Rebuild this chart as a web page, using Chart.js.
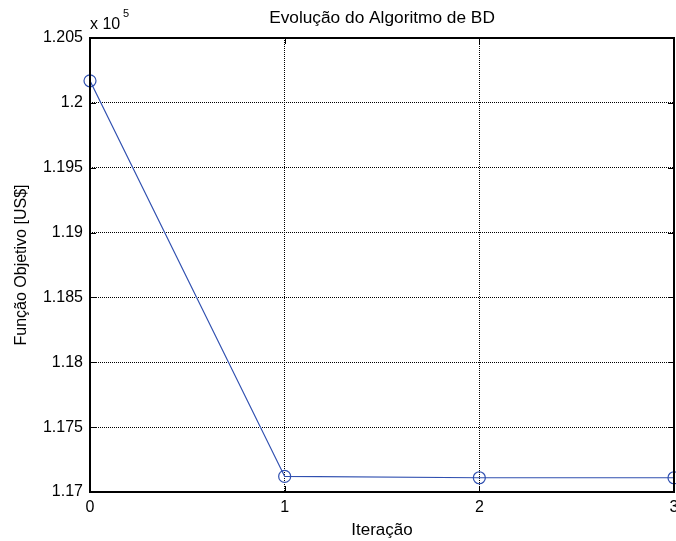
<!DOCTYPE html>
<html>
<head>
<meta charset="utf-8">
<script src="https://cdn.jsdelivr.net/npm/chart.js@4"></script>
<style>
  html, body { margin: 0; padding: 0; background: #fff; }
  #wrap { width: 676px; height: 541px; }
</style>
</head>
<body>
<div id="wrap"><canvas id="chart" width="676" height="541"></canvas></div>
<script>
const iteracoes = [0, 1, 2, 3];
const funcaoObjetivo = [120170, 117120, 117110, 117110];
const yTicks = [117000, 117500, 118000, 118500, 119000, 119500, 120000, 120500];
const xTicks = [0, 1, 2, 3];

const FONT = 'Liberation Sans, Arial, sans-serif';
const FS = 16;

// decoracoes estilo MATLAB: ticks para dentro, titulo e expoente
const matlabDeco = {
    id: 'matlabDeco',
    afterDraw(chart) {
        const ctx = chart.ctx;
        const a = chart.chartArea;
        const xs = chart.scales.x, ys = chart.scales.y;
        ctx.save();
        ctx.strokeStyle = '#000';
        ctx.lineWidth = 1;
        ctx.beginPath();
        yTicks.forEach(v => {
            const y = Math.round(ys.getPixelForValue(v)) + 0.5;
            ctx.moveTo(a.left, y); ctx.lineTo(a.left + 6, y);
            ctx.moveTo(a.right, y); ctx.lineTo(a.right - 6, y);
        });
        xTicks.forEach(v => {
            const x = Math.round(xs.getPixelForValue(v)) + 0.5;
            ctx.moveTo(x, a.bottom); ctx.lineTo(x, a.bottom - 6);
            ctx.moveTo(x, a.top); ctx.lineTo(x, a.top + 6);
        });
        ctx.stroke();
        ctx.lineWidth = 2;
        ctx.strokeRect(a.left, a.top, a.right - a.left, a.bottom - a.top);

        ctx.fillStyle = '#000';
        ctx.font = '17.3px ' + FONT;
        ctx.textAlign = 'center';
        ctx.textBaseline = 'middle';
        ctx.fillText('Evolução do Algoritmo de BD', (a.left + a.right) / 2, 18);

        ctx.font = FS + 'px ' + FONT;
        ctx.textAlign = 'left';
        ctx.fillText('x 10', a.left, 25);
        ctx.font = '11px ' + FONT;
        ctx.fillText('5', a.left + 33, 14);
        ctx.restore();
    }
};

new Chart(document.getElementById('chart'), {
    type: 'line',
    data: {
        labels: iteracoes,
        datasets: [{
            data: iteracoes.map((x, i) => ({ x: x, y: funcaoObjetivo[i] })),
            borderColor: '#3050b0',
            borderWidth: 1.2,
            pointStyle: 'circle',
            pointRadius: 6,
            pointBorderWidth: 1.2,
            pointBackgroundColor: 'rgba(0,0,0,0)',
            pointBorderColor: '#3050b0',
            tension: 0,
            clip: false
        }]
    },
    options: {
        responsive: false,
        animation: false,
        layout: { autoPadding: false, padding: { top: 38, right: 2, left: 0, bottom: 0 } },
        plugins: { legend: { display: false }, tooltip: { enabled: false } },
        scales: {
            x: {
                type: 'linear',
                min: 0, max: 3,
                afterBuildTicks: s => { s.ticks = xTicks.map(v => ({ value: v })); },
                afterFit: s => { s.height = 49; s.paddingLeft = 0; s.paddingRight = 0; },
                grid: { color: '#000', drawTicks: false, tickLength: 0 },
                border: { display: false, dash: [1, 1] },
                ticks: {
                    padding: 6,
                    color: '#000',
                    font: { family: FONT, size: FS },
                    maxRotation: 0
                },
                title: {
                    display: true,
                    text: 'Iteração',
                    color: '#000',
                    font: { family: FONT, size: 17 },
                    padding: { top: 0, bottom: 0 }
                }
            },
            y: {
                min: 117000, max: 120500,
                afterBuildTicks: s => { s.ticks = yTicks.map(v => ({ value: v })); },
                afterFit: s => { s.width = 90; s.paddingTop = 0; s.paddingBottom = 0; },
                grid: { color: '#000', drawTicks: false, tickLength: 0 },
                border: { display: false, dash: [1, 1] },
                ticks: {
                    padding: 7,
                    color: '#000',
                    font: { family: FONT, size: FS },
                    callback: v => String(Number((v / 1e5).toFixed(3)))
                },
                title: {
                    display: true,
                    text: 'Função Objetivo [US$]',
                    color: '#000',
                    font: { family: FONT, size: FS },
                    padding: { top: 12, bottom: 0 }
                }
            }
        }
    },
    plugins: [matlabDeco]
});
</script>
</body>
</html>
